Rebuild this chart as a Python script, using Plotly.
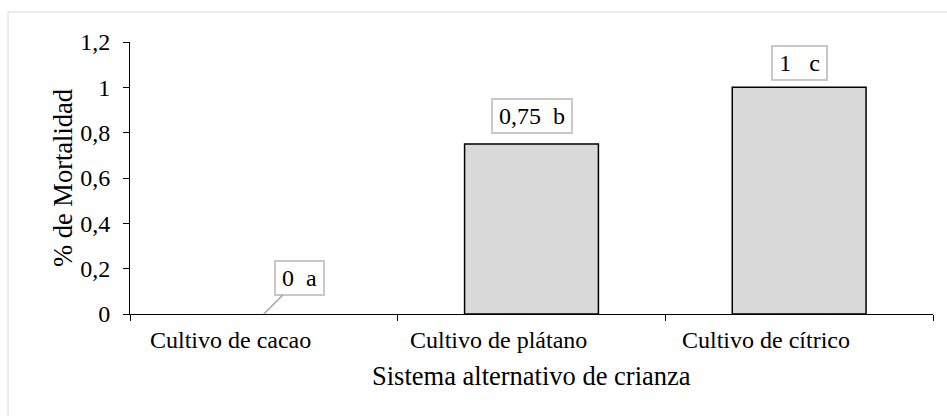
import plotly.graph_objects as go

categories = ["Cultivo de cacao", "Cultivo de plátano", "Cultivo de cítrico"]
mortality = [0, 0.75, 1]
letters = ["a", "b", "c"]
value_labels = ["0", "0,75", "1"]
y_tickvals = [0, 0.2, 0.4, 0.6, 0.8, 1.0, 1.2]
y_ticktext = ["0", "0,2", "0,4", "0,6", "0,8", "1", "1,2"]
x_title = "Sistema alternativo de crianza"
y_title = "% de Mortalidad"

FONT = "Liberation Serif"

fig = go.Figure()
fig.add_trace(go.Bar(
    x=categories, y=mortality,
    marker=dict(color="#d9d9d9",
                line=dict(color="black", width=[0 if v == 0 else 1.5 for v in mortality])),
    width=0.5, showlegend=False, hoverinfo="skip",
))

NB = "\u00a0"
label_text = [value_labels[0] + NB * 2 + letters[0],
              value_labels[1] + NB * 2 + letters[1],
              value_labels[2] + NB * 3 + letters[2]]
widths = [43, 74, 49]
for i, (cat, val) in enumerate(zip(categories, mortality)):
    common = dict(
        font=dict(family=FONT, size=24, color="black"),
        bordercolor="#c8c8c8", borderwidth=2, borderpad=2,
        bgcolor="white", width=widths[i], height=28,
    )
    if val == 0:
        fig.add_annotation(
            x=cat, y=val, text=label_text[i], showarrow=True, arrowhead=0,
            arrowcolor="#a6a6a6", arrowwidth=1.5, ax=36, ay=-36, **common)
    else:
        fig.add_annotation(
            x=cat, y=val, text=label_text[i], showarrow=False,
            yanchor="bottom", yshift=10 if i == 1 else 6, **common)

# category labels (drawn slightly left of the category centres, as in the original)
for cat in categories:
    fig.add_annotation(
        x=cat, y=0, xref="x", yref="paper", text=cat, showarrow=False,
        xanchor="center", yanchor="middle", xshift=-33, yshift=-26,
        font=dict(family=FONT, size=24, color="black"))

# axis titles
fig.add_annotation(
    x=0.5, y=0, xref="paper", yref="paper", text=x_title, showarrow=False,
    xanchor="center", yanchor="middle", yshift=-62,
    font=dict(family=FONT, size=26.5, color="black"))
fig.add_annotation(
    x=0, y=0.5, xref="paper", yref="paper", text=y_title, showarrow=False,
    textangle=-90, xanchor="center", yanchor="middle", xshift=-67,
    font=dict(family=FONT, size=26.5, color="black"))

# outer chart border (top/left visible)
fig.add_shape(type="rect", xref="paper", yref="paper",
              x0=-0.1519, x1=1.08, y0=-0.5, y1=1.1103,
              line=dict(color="#d9d9d9", width=1), layer="below")

fig.update_layout(
    width=947, height=416,
    margin=dict(l=130, r=14, t=42, b=102),
    paper_bgcolor="white", plot_bgcolor="white",
    font=dict(family=FONT, size=24, color="black"),
    bargap=0.5,
    xaxis=dict(
        showline=True, linecolor="black", linewidth=1,
        ticks="outside", tickson="boundaries", ticklen=6, tickcolor="black",
        showticklabels=False, showgrid=False,
    ),
    yaxis=dict(
        range=[0, 1.2], tickvals=y_tickvals, ticktext=y_ticktext,
        showline=True, linecolor="black", linewidth=1,
        ticks="outside", ticklen=6, tickcolor="black",
        ticklabelstandoff=8,
        tickfont=dict(family=FONT, size=24),
        showgrid=False, zeroline=False,
    ),
)

fig.write_html("out.html")
